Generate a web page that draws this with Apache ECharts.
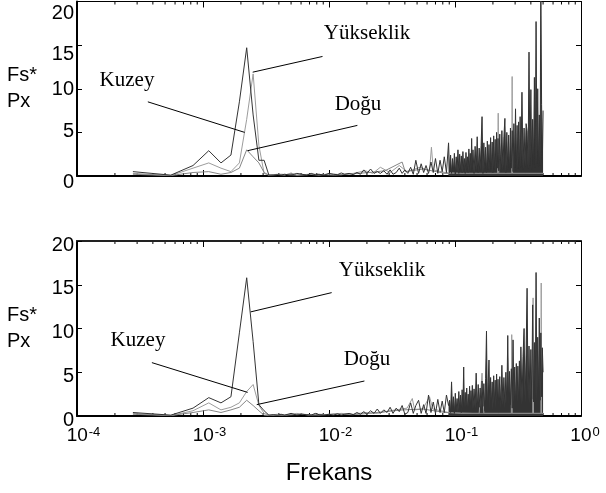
<!DOCTYPE html>
<html>
<head>
<meta charset="utf-8">
<script src="https://cdn.jsdelivr.net/npm/echarts@6/dist/echarts.min.js"></script>
<style>
  html, body { margin: 0; padding: 0; background: #fff; }
  #chart { width: 606px; height: 493px; }
</style>
</head>
<body>
<div id="chart"></div>
<script>
// Spectra of a one-hour, 1 Hz record: frequency = bin / NFFT (Hz)
const NFFT = 3600;

// Frequency bins at which the height (Yükseklik) spectrum is plotted
const binsYukseklik = [
  1, 2, 3, 4, 5, 6, 7, 8, 9, 10, 11, 12, 13, 14, 15, 16,
  18, 20, 22, 24, 26, 28, 30, 33, 36, 39, 42, 45, 48,
  52, 56, 60, 64, 68, 72, 77, 82, 87, 92, 98,
  104, 110, 116, 123, 130, 137, 144, 152, 160, 168, 176, 185, 194, 203, 212,
  222, 232, 242, 252, 263, 274, 285, 296, 308, 320,
  326, 332, 338, 344, 350, 356, 362, 368, 374, 380, 386, 392, 398, 404, 410,
  416, 422, 428, 434, 440, 446, 452, 458, 464, 470, 476, 482, 488, 494, 500,
  510, 520, 530, 540, 550, 560, 570, 580, 590, 600, 610, 620, 630, 640, 650,
  660, 670, 680, 690, 700, 710, 720, 730, 740, 750, 760, 770, 780, 790, 800,
  816, 832, 848, 864, 880, 896, 912, 928, 944, 960, 976, 992, 1008, 1024, 1040,
  1056, 1072, 1088, 1104, 1120, 1136, 1152, 1168, 1184, 1200,
  1224, 1248, 1272, 1296, 1320, 1344, 1368, 1392, 1416, 1440, 1464, 1488, 1512,
  1536, 1560, 1584, 1608, 1632, 1656, 1680, 1704, 1728, 1752, 1776, 1800
];
// above this bin the spectrum is so dense that it reads as a filled band
const DENSE_FROM_BIN = 320;

// Upper panel
const yukseklikUpper = [
  0.5, 0.1, 1.2, 2.9, 1.5, 2.4, 8.5, 14.7, 7.0, 1.8, 1.8, 0.1, 0.1, 0.15, 0.1, 0.2,
  0.1, 0.3, 0.2, 0.1, 0.3, 0.15, 0.2, 0.1, 0.3, 0.2, 0.15, 0.35, 0.2,
  0.3, 0.15, 0.4, 0.2, 0.7, 0.3, 0.8, 0.3, 0.5, 0.3, 0.6,
  0.2, 0.7, 0.2, 0.4, 0.9, 0.3, 0.7, 0.3, 1.0, 0.2, 1.8, 0.3, 1.4, 0.4, 1.2,
  0.3, 1.6, 0.4, 2.0, 0.3, 1.8, 0.5, 2.2, 0.4, 3.8,
  0.4, 2.4, 0.3, 2.0, 0.6, 2.6, 0.2, 2.2, 0.5, 3.0, 0.3, 2.5, 0.7, 2.3, 0.4,
  2.8, 0.6, 2.0, 0.3, 2.7, 0.8, 2.2, 0.4, 3.1, 0.7, 2.6, 0.5, 4.3, 0.9, 3.0,
  0.3, 3.4, 0.6, 4.5, 0.4, 3.2, 0.7, 3.5, 6.8, 0.3, 3.8, 0.6, 3.3, 0.4, 4.0,
  0.8, 3.6, 0.5, 4.4, 0.7, 3.9, 0.4, 4.6, 0.8, 4.2, 0.5, 5.0, 0.9, 4.3, 0.6,
  4.8, 0.5, 5.2, 0.7, 4.5, 6.6, 0.4, 5.0, 0.8, 4.7, 0.6, 5.5, 0.9, 5.2, 0.5,
  6.0, 1.0, 7.7, 0.6, 5.8, 0.9, 6.2, 0.7, 6.8, 1.0,
  9.6, 0.8, 5.5, 1.1, 6.0, 5.2, 0.9, 14.2, 1.2, 9.9, 0.8, 6.5, 1.3,
  11.3, 1.0, 17.7, 1.4, 10.0, 1.1, 7.0, 1.2, 22.0, 8.2, 1.5, 7.5
];
const kuzeyUpperBins = [
  1, 2, 3, 4, 5, 6, 7, 8, 9, 10, 11, 12, 14, 16, 18, 20,
  25, 30, 36, 45, 56, 70, 80, 92, 110, 130, 150, 190,
  226, 234, 242, 300, 400, 500, 700, 785, 793, 801, 900,
  1015, 1023, 1031, 1300, 1600, 1800
];
const kuzeyUpper = [
  0.3, 0.05, 0.9, 1.5, 0.9, 0.5, 1.5, 6.5, 11.7, 3.5, 0.3, 0.1, 0.2, 0.1, 0.35, 0.1,
  0.2, 0.1, 0.25, 0.15, 0.3, 0.6, 0.3, 1.0, 0.4, 1.2, 0.5, 1.0,
  0.6, 3.3, 0.7, 0.4, 0.3, 0.3, 0.3, 0.3, 7.2, 0.3, 0.3,
  0.3, 11.4, 0.3, 0.3, 0.3, 0.3
];
const doguUpperBins = [
  1, 2, 3, 4, 5, 6, 7, 8, 9, 10, 11, 12,
  15, 20, 28, 40, 55, 75, 100, 137, 145, 200, 300, 450, 700, 1000, 1400, 1800
];
const doguUpper = [
  0.2, 0.05, 0.4, 0.5, 0.2, 0.4, 0.9, 3.0, 2.2, 1.5, 0.4, 0.1,
  0.2, 0.1, 0.2, 0.1, 0.25, 0.4, 0.6, 1.6, 0.5, 0.8, 0.3, 0.3, 0.3, 0.3, 0.3, 0.3
];

// Lower panel
const yukseklikLower = [
  0.4, 0.1, 0.9, 2.1, 1.5, 2.2, 9.5, 15.8, 8.5, 1.3, 0.6, 0.1, 0.15, 0.1, 0.2, 0.1,
  0.3, 0.1, 0.2, 0.15, 0.1, 0.3, 0.15, 0.1, 0.2, 0.1, 0.25, 0.1, 0.2,
  0.3, 0.15, 0.4, 0.2, 0.5, 0.2, 0.6, 0.3, 0.8, 0.3, 0.7,
  0.4, 1.0, 0.3, 0.9, 0.5, 1.2, 0.2, 0.4, 1.5, 0.3, 1.2, 1.8, 0.3, 1.3, 0.3,
  2.4, 0.4, 1.6, 0.3, 1.9, 0.4, 1.7, 0.4, 2.4, 1.2,
  1.8, 0.4, 3.9, 0.6, 2.2, 0.3, 2.6, 0.7, 2.0, 0.5, 2.8, 0.8, 2.4, 0.4, 3.0,
  0.9, 5.6, 0.5, 2.7, 1.0, 3.2, 0.6, 2.5, 1.1, 3.4, 0.7, 2.9, 1.2, 3.5, 0.8,
  3.1, 0.9, 4.9, 0.6, 3.6, 1.0, 3.2, 0.7, 4.0, 1.1, 3.7, 0.6, 4.3, 9.7, 0.9,
  3.8, 6.4, 0.8, 4.4, 1.2, 3.9, 0.7, 4.6, 1.3, 4.1, 0.9, 4.8, 1.4, 4.2, 1.0,
  4.5, 0.8, 5.8, 1.2, 4.4, 0.9, 5.0, 1.4, 9.2, 1.0, 5.1, 1.3, 5.4, 0.9, 8.7,
  1.5, 5.6, 1.1, 6.0, 1.6, 5.7, 1.2, 6.3, 1.7, 7.9,
  1.3, 6.8, 10.0, 1.5, 7.2, 14.6, 1.8, 8.0, 1.4, 7.6, 1.9, 12.7, 1.6,
  8.4, 2.0, 16.4, 1.7, 9.0, 2.1, 11.2, 1.8, 9.5, 2.2, 7.8, 5.0
];
const kuzeyLowerBins = [
  1, 2, 3, 4, 5, 6, 7, 8, 9, 10, 11, 12,
  14, 16, 20, 25, 30, 36, 45, 56, 70, 87, 110, 150,
  165, 172, 200, 226, 240, 320, 400, 560, 590, 610,
  800, 1008, 1015, 1024, 1200, 1490, 1500, 1510, 1730, 1740, 1752, 1800
];
const kuzeyLower = [
  0.3, 0.05, 0.6, 1.5, 0.7, 1.0, 1.5, 2.8, 3.6, 1.2, 0.3, 0.1,
  0.2, 0.1, 0.3, 0.1, 0.2, 0.15, 0.3, 0.2, 0.4, 0.3, 0.6, 0.9,
  2.0, 0.7, 0.8, 2.2, 0.8, 0.4, 0.3, 0.3, 4.9, 0.3,
  0.3, 0.3, 9.3, 0.3, 0.3, 0.3, 13.5, 0.3, 0.3, 15.2, 0.3, 0.3
];
const doguLowerBins = [
  1, 2, 3, 4, 5, 6, 7, 8, 9, 10, 11, 12,
  16, 22, 30, 40, 55, 75, 100, 140, 200, 300, 500, 800, 1200, 1800
];
const doguLower = [
  0.2, 0.05, 0.4, 0.7, 0.4, 0.7, 1.0, 1.8, 1.2, 0.6, 0.1, 0.05,
  0.1, 0.2, 0.1, 0.25, 0.15, 0.3, 0.5, 0.7, 0.8, 0.4, 0.3, 0.3, 0.3, 0.3
];

// Leader lines for the series names: [fStart, vStart, fEnd, vEnd]
const pointersUpper = [
  [3.65e-4, 8.5, 2.14e-3, 5.0],
  [8.88e-3, 13.7, 2.48e-3, 11.9],
  [1.68e-2, 5.8, 2.26e-3, 2.9]
];
const pointersLower = [
  [3.93e-4, 6.1, 2.26e-3, 2.7],
  [1.05e-2, 14.1, 2.39e-3, 11.9],
  [1.91e-2, 4.0, 2.67e-3, 1.3]
];

const yTicks = [0, 5, 10, 15, 20];
const xDecades = [-4, -3, -2, -1, 0];

const SANS = '"Liberation Sans", Arial, Helvetica, sans-serif';
const SERIF = '"Liberation Serif", "Times New Roman", serif';

function pairs(bins, vals) {
  return bins.map((k, i) => [k / NFFT, vals[i]]);
}

// per-label vertical nudges of the y tick labels (px, + = down)
const yLabelShiftUpper = { 0: 6, 5: -1, 10: 1, 15: 9, 20: 12 };
const yLabelShiftLower = { 0: 4, 5: 4, 10: 4, 15: 4, 20: 4 };
function yRich(shift) {
  const rich = {};
  yTicks.forEach(t => {
    const d = shift[t];
    rich['v' + t] = {
      fontFamily: SANS, fontSize: 20, color: '#000',
      padding: d >= 0 ? [2 * d, 0, 0, 0] : [0, 0, -2 * d, 0]
    };
  });
  return rich;
}

const grids = [
  { left: 77, right: 25, top: 1.5, height: 174.5 },
  { left: 77, right: 25, top: 241, height: 175 }
];

function xAxes(gridIndex, withLabels) {
  const base = {
    type: 'log', logBase: 10, min: 1e-4, max: 1, gridIndex,
    splitLine: { show: false },
    axisTick: { show: true, inside: true, length: 6, lineStyle: { color: '#000', width: 1 } }
  };
  return [
    Object.assign({}, base, {
      position: 'bottom',
      axisLine: { show: true, onZero: false, lineStyle: { color: '#000', width: 2 } },
      axisLabel: withLabels ? {
        show: true, margin: 10,
        formatter: v => {
          const e = Math.round(Math.log10(v));
          return '{' + (e < 0 ? 'sn' : 'sp') + '|\u00a0}{b|10}{ex|' + e + '}';
        },
        rich: {
          sn: { width: 13, fontSize: 13 },
          sp: { width: 8, fontSize: 13 },
          b: { fontFamily: SANS, fontSize: 19, color: '#000', lineHeight: 19, padding: [6, 0, 0, 0], verticalAlign: 'bottom' },
          ex: { fontFamily: SANS, fontSize: 13, color: '#000', lineHeight: 13, verticalAlign: 'top', padding: [0, 0, 0, 1] }
        }
      } : { show: false },
      name: withLabels ? 'Frekans' : '',
      nameLocation: 'middle',
      nameGap: 45,
      nameTextStyle: { fontFamily: SANS, fontSize: 24, color: '#000' }
    }),
    Object.assign({}, base, {
      position: 'top',
      axisLine: { show: true, onZero: false, lineStyle: { color: gridIndex ? '#222' : '#000', width: gridIndex ? 2 : 1.2 } },
      axisLabel: { show: false }
    })
  ];
}

function yAxes(gridIndex, shift) {
  const base = {
    type: 'value', min: 0, max: 20, interval: 5, gridIndex,
    splitLine: { show: false },
    axisTick: { show: true, inside: true, length: 5, lineStyle: { color: '#000', width: 1 } }
  };
  return [
    Object.assign({}, base, {
      position: 'left',
      axisLine: { show: true, onZero: false, lineStyle: { color: '#000', width: 2 } },
      axisLabel: {
        show: true, margin: 3, showMinLabel: true, showMaxLabel: true,
        formatter: v => '{v' + v + '|' + v + '}',
        rich: yRich(shift)
      },
      name: 'Fs*\nPx',
      nameLocation: 'middle',
      nameRotate: 0,
      nameGap: 70,
      nameTextStyle: {
        fontFamily: SANS, fontSize: 20, color: '#000', align: 'left',
        lineHeight: 26, padding: [0, 0, 44, 0]
      }
    }),
    Object.assign({}, base, {
      position: 'right',
      axisLine: { show: true, onZero: false, lineStyle: { color: '#000', width: 1 } },
      axisLabel: { show: false }
    })
  ];
}

function lineSeries(name, data, color, xi, yi, extra) {
  return Object.assign({
    name, type: 'line', data,
    xAxisIndex: xi, yAxisIndex: yi,
    showSymbol: false, symbol: 'none', clip: true,
    lineStyle: { color, width: 1 },
    itemStyle: { color },
    emphasis: { disabled: true },
    animation: false
  }, extra || {});
}

function leaderLines(list) {
  return {
    silent: true, symbol: ['none', 'none'], animation: false,
    label: { show: false },
    lineStyle: { color: '#000', width: 1, type: 'solid' },
    emphasis: { disabled: true },
    data: list.map(p => [{ coord: [p[0], p[1]] }, { coord: [p[2], p[3]] }])
  };
}

const GRAY_K = '#9c9c9c';
const GRAY_D = '#858585';
const DARK = '#333333';

// The height spectrum is drawn in two parts: the sparse low-frequency line,
// and the dense high-frequency part whose oscillations fill down to zero.
const splitAt = binsYukseklik.indexOf(DENSE_FROM_BIN);
function yukseklikSeries(vals, xi, yi, pointers) {
  const all = pairs(binsYukseklik, vals);
  return [
    lineSeries('Yükseklik', all.slice(0, splitAt + 1), DARK, xi, yi,
      { markLine: leaderLines(pointers) }),
    lineSeries('Yükseklik', all.slice(splitAt), DARK, xi, yi,
      { areaStyle: { color: DARK, opacity: 1, origin: 'start' } })
  ];
}

const chart = echarts.init(document.getElementById('chart'), null, { renderer: 'canvas' });
chart.setOption({
  animation: false,
  backgroundColor: '#fff',
  grid: grids,
  xAxis: xAxes(0, false).concat(xAxes(1, true)),
  yAxis: yAxes(0, yLabelShiftUpper).concat(yAxes(1, yLabelShiftLower)),
  series: [
    lineSeries('Kuzey', pairs(kuzeyUpperBins, kuzeyUpper), GRAY_K, 0, 0),
    lineSeries('Doğu', pairs(doguUpperBins, doguUpper), GRAY_D, 0, 0)
  ].concat(yukseklikSeries(yukseklikUpper, 0, 0, pointersUpper), [
    lineSeries('Kuzey', pairs(kuzeyLowerBins, kuzeyLower), GRAY_K, 2, 2),
    lineSeries('Doğu', pairs(doguLowerBins, doguLower), GRAY_D, 2, 2)
  ], yukseklikSeries(yukseklikLower, 2, 2, pointersLower))
});

// Series names beside their leader lines, and the 2..9 minor ticks of the log axes
const nameLabels = [
  { text: 'Kuzey', x: 127, y: 80 },
  { text: 'Yükseklik', x: 367, y: 33 },
  { text: 'Doğu', x: 358, y: 104 },
  { text: 'Yükseklik', x: 382, y: 270 },
  { text: 'Kuzey', x: 138, y: 340 },
  { text: 'Doğu', x: 367, y: 359 }
];
const graphics = nameLabels.map(l => ({
  type: 'text', x: l.x, y: l.y, silent: true,
  style: {
    text: l.text, fontFamily: SERIF, fontSize: 21, fill: '#000',
    align: 'center', verticalAlign: 'middle'
  }
}));
[0, 1].forEach(g => {
  const xi = 2 * g, yi = 2 * g;
  const yBottom = chart.convertToPixel({ yAxisIndex: yi }, 0);
  const yTop = chart.convertToPixel({ yAxisIndex: yi }, 20);
  xDecades.slice(0, -1).forEach(d => {
    for (let m = 2; m <= 9; m++) {
      const px = chart.convertToPixel({ xAxisIndex: xi }, m * Math.pow(10, d));
      graphics.push({ type: 'line', silent: true, shape: { x1: px, y1: yBottom, x2: px, y2: yBottom - 3 }, style: { stroke: '#000', lineWidth: 1 } });
      graphics.push({ type: 'line', silent: true, shape: { x1: px, y1: yTop, x2: px, y2: yTop + 3 }, style: { stroke: '#000', lineWidth: 1 } });
    }
  });
});
chart.setOption({ graphic: graphics });
</script>
</body>
</html>
